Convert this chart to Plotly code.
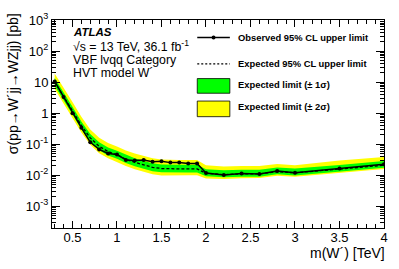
import plotly.graph_objects as go

# ---- data ----
mass = [0.3, 0.4, 0.5, 0.6, 0.7, 0.8, 0.9, 1.0, 1.1, 1.2, 1.3, 1.4, 1.5, 1.6, 1.7, 1.8, 1.9,
        2.0, 2.2, 2.4, 2.6, 2.8, 3.0, 3.5, 4.0]
observed = [10.5, 3.3, 1.0, 0.34, 0.115, 0.068, 0.050, 0.047, 0.031, 0.030, 0.031, 0.027, 0.028,
            0.0255, 0.0255, 0.024, 0.024, 0.0118, 0.0102, 0.0113, 0.011, 0.0137, 0.012, 0.0165, 0.0225]
expected = [10.0, 3.6, 1.2, 0.40, 0.16, 0.085, 0.058, 0.045, 0.033, 0.026, 0.0215, 0.018, 0.0165,
            0.016, 0.016, 0.016, 0.016, 0.0115, 0.0105, 0.011, 0.011, 0.013, 0.012, 0.0158, 0.021]
plus2 = [19.0, 6.8, 2.3, 0.76, 0.30, 0.16, 0.11, 0.085, 0.063, 0.050, 0.041, 0.035, 0.032,
         0.031, 0.031, 0.031, 0.031, 0.021, 0.019, 0.020, 0.020, 0.023, 0.021, 0.030, 0.039]
plus1 = [13.5, 4.9, 1.62, 0.54, 0.215, 0.115, 0.078, 0.061, 0.045, 0.035, 0.029, 0.0243, 0.0223,
         0.0216, 0.0216, 0.0216, 0.0216, 0.0155, 0.0145, 0.015, 0.015, 0.0178, 0.0165, 0.0215, 0.029]
minus1 = [7.5, 2.7, 0.9, 0.30, 0.12, 0.064, 0.0435, 0.034, 0.025, 0.0195, 0.0162, 0.0135, 0.0125,
          0.0122, 0.0122, 0.0122, 0.0122, 0.0092, 0.0086, 0.009, 0.009, 0.0107, 0.0099, 0.0131, 0.0175]
minus2 = [6.0, 2.15, 0.72, 0.24, 0.096, 0.051, 0.035, 0.027, 0.0198, 0.0156, 0.0129, 0.0108, 0.0099,
          0.0098, 0.0098, 0.0100, 0.0100, 0.0078, 0.0076, 0.008, 0.0081, 0.0096, 0.0089, 0.0117, 0.0158]

y_tickvals = [1e-3, 1e-2, 1e-1, 1, 10, 100, 1000]
y_ticktext = ["10<sup>-3</sup>", "10<sup>-2</sup>", "10<sup>-1</sup>", "1", "10",
              "10<sup>2</sup>", "10<sup>3</sup>"]

YELLOW = "#ffff00"
GREEN = "#00ff00"
FONT = "Liberation Sans"

fig = go.Figure()
fig.add_trace(go.Scatter(x=mass + mass[::-1], y=plus2 + minus2[::-1], fill="toself",
                         fillcolor=YELLOW, line=dict(width=0), mode="lines", hoverinfo="skip"))
fig.add_trace(go.Scatter(x=mass + mass[::-1], y=plus1 + minus1[::-1], fill="toself",
                         fillcolor=GREEN, line=dict(width=0), mode="lines", hoverinfo="skip"))
fig.add_trace(go.Scatter(x=mass, y=expected, mode="lines",
                         line=dict(color="black", width=1.3, dash="3px,2px")))
fig.add_trace(go.Scatter(x=mass, y=observed, mode="lines+markers",
                         line=dict(color="black", width=1.5),
                         marker=dict(color="black", size=4, symbol="circle")))

minor_y = [k * 10 ** e for e in range(-4, 3) for k in range(2, 10)]

fig.update_layout(
    width=399, height=269,
    margin=dict(l=52, r=11, t=15, b=41),
    paper_bgcolor="white", plot_bgcolor="white",
    showlegend=False,
    font=dict(family=FONT, color="black", size=12),
    xaxis=dict(range=[0.27, 4.0], tickmode="linear", tick0=0.5, dtick=0.5,
               ticks="inside", ticklen=7, tickcolor="black", tickwidth=1,
               showline=True, linecolor="black", linewidth=1, mirror="allticks",
               showgrid=False, zeroline=False, ticklabelstandoff=-3,
               minor=dict(dtick=0.1, tick0=0.5, ticks="inside", ticklen=4, tickcolor="black", showgrid=False),
               tickfont=dict(size=13, family=FONT)),
    yaxis=dict(type="log", range=[-3.699, 3.0], tickmode="array",
               tickvals=y_tickvals, ticktext=y_ticktext,
               ticks="inside", ticklen=8, tickcolor="black", tickwidth=1,
               showline=True, linecolor="black", linewidth=1, mirror="allticks",
               showgrid=False, zeroline=False,
               minor=dict(tickmode="array", tickvals=minor_y, ticks="inside", ticklen=4,
                          tickcolor="black", showgrid=False),
               tickfont=dict(size=13, family=FONT)),
)

# helpers: convert window pixel positions to paper coordinates
def px_x(px):
    return (px - 52) / 336.0

def px_y(py):
    return (228 - py) / 213.0

ann = []
ann.append(dict(text="m(W´) [TeV]", xref="paper", yref="paper", x=px_x(391), y=px_y(254),
                xanchor="right", yanchor="middle", showarrow=False, font=dict(size=14, family=FONT)))
ann.append(dict(text="σ(pp→W´jj→WZjj) [pb]", xref="paper", yref="paper", x=px_x(12), y=px_y(6),
                xanchor="center", yanchor="top", textangle=-90, showarrow=False,
                font=dict(size=14, family=FONT)))
ann.append(dict(text="<b><i>ATLAS</i></b>", xref="paper", yref="paper", x=px_x(71), y=px_y(27),
                xanchor="left", yanchor="middle", showarrow=False, font=dict(size=11.5, family=FONT)))
for txt, py in [("√s = 13 TeV, 36.1 fb<sup>-1</sup>", 41.5), ("VBF lvqq Category", 55.5),
                ("HVT model W´", 69)]:
    ann.append(dict(text=txt, xref="paper", yref="paper", x=px_x(71), y=px_y(py),
                    xanchor="left", yanchor="middle", showarrow=False, font=dict(size=12.3, family=FONT)))

leg_items = [("Observed 95% CL upper limit", 33), ("Expected 95% CL upper limit", 60),
             ("Expected limit (± 1σ)", 81), ("Expected limit (± 2σ)", 104)]
for txt, py in leg_items:
    ann.append(dict(text="<b>" + txt + "</b>", xref="paper", yref="paper", x=px_x(238), y=px_y(py),
                    xanchor="left", yanchor="middle", showarrow=False, font=dict(size=9.4, family=FONT)))

shapes = []
shapes.append(dict(type="line", xref="paper", yref="paper", x0=px_x(199), x1=px_x(232),
                   y0=px_y(33), y1=px_y(33), line=dict(color="black", width=1.5)))
shapes.append(dict(type="circle", xref="paper", yref="paper", x0=px_x(213.5), x1=px_x(217.5),
                   y0=px_y(35), y1=px_y(31), fillcolor="black", line=dict(color="black", width=0)))
shapes.append(dict(type="line", xref="paper", yref="paper", x0=px_x(199), x1=px_x(232),
                   y0=px_y(60), y1=px_y(60), line=dict(color="black", width=1.2, dash="2px,2px")))
shapes.append(dict(type="rect", xref="paper", yref="paper", x0=px_x(199), x1=px_x(232),
                   y0=px_y(90), y1=px_y(75), fillcolor=GREEN, line=dict(color="black", width=0.8)))
shapes.append(dict(type="rect", xref="paper", yref="paper", x0=px_x(199), x1=px_x(232),
                   y0=px_y(114), y1=px_y(98), fillcolor=YELLOW, line=dict(color="black", width=0.8)))

fig.update_layout(annotations=ann, shapes=shapes)
fig.write_html("out.html", config={"displayModeBar": False},
               post_script="document.body.style.margin='0';document.body.style.overflow='hidden';")
